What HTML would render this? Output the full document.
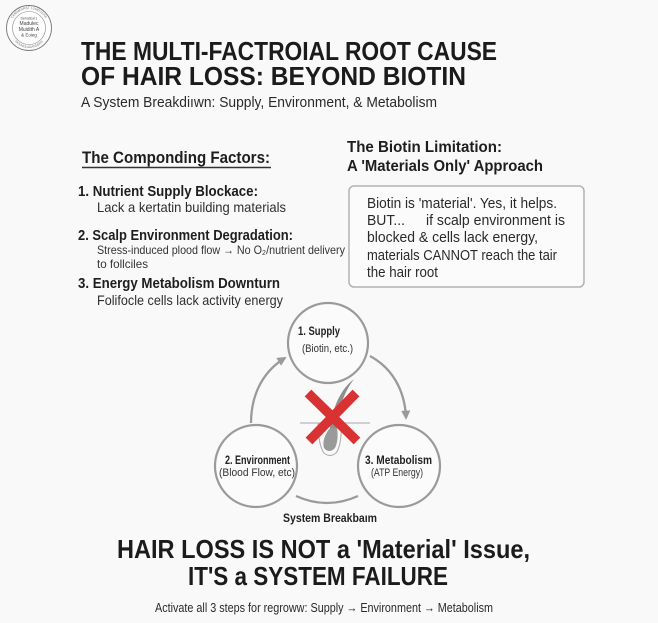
<!DOCTYPE html>
<html>
<head>
<meta charset="utf-8">
<style>
  html,body{margin:0;padding:0;background:#f9f9f9;}
  svg{display:block;}
  text{font-family:"Liberation Sans", Arial, sans-serif;}
</style>
</head>
<body>
<svg width="658" height="623" viewBox="0 0 658 623" xmlns="http://www.w3.org/2000/svg">
  <defs>
    <marker id="ah" viewBox="0 0 10 10" refX="8" refY="5" markerWidth="4" markerHeight="4" orient="auto" markerUnits="strokeWidth">
      <path d="M0,0 L10,5 L0,10 z" fill="#9a9a9a"/>
    </marker>
    <path id="ringTop" d="M 10 28 A 19 19 0 0 1 48 28"/>
    <path id="ringBot" d="M 10 29 A 19 19 0 0 0 48 29"/>
  </defs>
  <rect x="0" y="0" width="658" height="623" fill="#f9f9f9"/>

  <!-- Logo -->
  <circle cx="29" cy="28" r="22.5" fill="#fdfdfd" stroke="#7a7a7a" stroke-width="0.9"/>
  <circle cx="29" cy="28" r="16.5" fill="none" stroke="#8a8a8a" stroke-width="0.6"/>
  <text font-size="3.2" fill="#777"><textPath href="#ringTop" startOffset="50%" text-anchor="middle">CEMMEARST LUMDUERE</textPath></text>
  <text font-size="3.2" fill="#777"><textPath href="#ringBot" startOffset="50%" text-anchor="middle">ROUNOLAGANSERS</textPath></text>
  <text x="29" y="19.5" font-size="3.2" fill="#555" text-anchor="middle">Dematical 1</text>
  <text x="29" y="25" font-size="5" fill="#444" text-anchor="middle">Madulec</text>
  <text x="29" y="31" font-size="5" fill="#444" text-anchor="middle">Muidith A</text>
  <text x="29" y="36.5" font-size="4.5" fill="#444" text-anchor="middle">&amp; Eoieg</text>

  <!-- Title -->
  <text x="81" y="60" font-size="26" font-weight="bold" fill="#1b1b1b" textLength="416" lengthAdjust="spacingAndGlyphs">THE MULTI-FACTROIAL ROOT CAUSE</text>
  <text x="81" y="85" font-size="26" font-weight="bold" fill="#1b1b1b" textLength="385" lengthAdjust="spacingAndGlyphs">OF HAIR LOSS: BEYOND BIOTIN</text>
  <text x="81" y="107" font-size="15" fill="#2a2a2a" textLength="356" lengthAdjust="spacingAndGlyphs">A System Breakdiıwn: Supply, Environment, &amp; Metabolism</text>

  <!-- Left column -->
  <text x="82" y="163" font-size="16.5" font-weight="bold" fill="#1e1e1e" textLength="188" lengthAdjust="spacingAndGlyphs">The Componding Factors:</text>
  <line x1="82" y1="167.5" x2="271" y2="167.5" stroke="#333" stroke-width="1.4"/>

  <text x="78" y="196" font-size="15" font-weight="bold" fill="#1e1e1e" textLength="180" lengthAdjust="spacingAndGlyphs">1. Nutrient Supply Blockace:</text>
  <text x="97" y="212" font-size="14" fill="#2e2e2e" textLength="189" lengthAdjust="spacingAndGlyphs">Lack a kertatin building materials</text>

  <text x="78" y="240" font-size="15" font-weight="bold" fill="#1e1e1e" textLength="215" lengthAdjust="spacingAndGlyphs">2. Scalp Environment Degradation:</text>
  <text x="97" y="254" font-size="12" fill="#333" textLength="248" lengthAdjust="spacingAndGlyphs">Stress-induced plood flow → No O₂/nutrient delivery</text>
  <text x="97" y="268" font-size="12" fill="#333" textLength="51" lengthAdjust="spacingAndGlyphs">to follciles</text>

  <text x="78" y="288" font-size="15" font-weight="bold" fill="#1e1e1e" textLength="202" lengthAdjust="spacingAndGlyphs">3. Energy Metabolism Downturn</text>
  <text x="97" y="305" font-size="14" fill="#2e2e2e" textLength="186" lengthAdjust="spacingAndGlyphs">Folifocle cells lack activity energy</text>

  <!-- Right column -->
  <text x="347" y="152" font-size="16" font-weight="bold" fill="#1e1e1e" textLength="155" lengthAdjust="spacingAndGlyphs">The Biotin Limitation:</text>
  <text x="347" y="171" font-size="16" font-weight="bold" fill="#1e1e1e" textLength="196" lengthAdjust="spacingAndGlyphs">A 'Materials Only' Approach</text>

  <rect x="349" y="186" width="235" height="101" rx="5" ry="5" fill="#fbfbfb" stroke="#b3b3b3" stroke-width="1.5"/>
  <text x="367" y="208" font-size="14.5" fill="#2a2a2a" textLength="190" lengthAdjust="spacingAndGlyphs">Biotin is 'material'. Yes, it helps.</text>
  <text x="367" y="225" font-size="14.5" fill="#2a2a2a" textLength="38" lengthAdjust="spacingAndGlyphs">BUT...</text>
  <text x="426" y="225" font-size="14.5" fill="#2a2a2a" textLength="139" lengthAdjust="spacingAndGlyphs">if scalp environment is</text>
  <text x="367" y="242" font-size="14.5" fill="#2a2a2a" textLength="171" lengthAdjust="spacingAndGlyphs">blocked &amp; cells lack energy,</text>
  <text x="367" y="260" font-size="14.5" fill="#2a2a2a" textLength="190" lengthAdjust="spacingAndGlyphs">materials CANNOT reach the tair</text>
  <text x="367" y="277" font-size="14.5" fill="#2a2a2a" textLength="71" lengthAdjust="spacingAndGlyphs">the hair root</text>

  <!-- Cycle diagram: arrows -->
  <path d="M 251 423 C 251 396, 262 372, 285 358" fill="none" stroke="#9a9a9a" stroke-width="2.3" marker-end="url(#ah)"/>
  <path d="M 370 356 C 392 368, 405 390, 406 418" fill="none" stroke="#9a9a9a" stroke-width="2.3" marker-end="url(#ah)"/>
  <path d="M 296 496 Q 327 510 358 496" fill="none" stroke="#9a9a9a" stroke-width="2.3"/>

  <!-- Circles -->
  <circle cx="328" cy="343" r="40" fill="#fbfbfb" stroke="#9a9a9a" stroke-width="2.2"/>
  <circle cx="256" cy="466" r="41" fill="#fbfbfb" stroke="#9a9a9a" stroke-width="2.2"/>
  <circle cx="399" cy="466" r="41" fill="#fbfbfb" stroke="#9a9a9a" stroke-width="2.2"/>

  <text x="298" y="335" font-size="12" font-weight="bold" fill="#222" textLength="42" lengthAdjust="spacingAndGlyphs">1. Supply</text>
  <text x="302" y="352" font-size="11" fill="#333" textLength="51" lengthAdjust="spacingAndGlyphs">(Biotin, etc.)</text>

  <text x="225" y="464" font-size="12" font-weight="bold" fill="#222" textLength="65" lengthAdjust="spacingAndGlyphs">2. Environment</text>
  <text x="219" y="476" font-size="11" fill="#333" textLength="76" lengthAdjust="spacingAndGlyphs">(Blood Flow, etc)</text>

  <text x="365" y="464" font-size="12" font-weight="bold" fill="#222" textLength="67" lengthAdjust="spacingAndGlyphs">3. Metabolism</text>
  <text x="371" y="476" font-size="11" fill="#333" textLength="52" lengthAdjust="spacingAndGlyphs">(ATP Energy)</text>

  <!-- Hair follicle -->
  <line x1="300" y1="423" x2="321" y2="423" stroke="#a8a8a8" stroke-width="1.1"/>
  <line x1="343" y1="423" x2="370" y2="423" stroke="#a8a8a8" stroke-width="1.1"/>
  <path d="M 318 423 C 318 435, 320 448, 324 453 Q 330 458 336 453 C 340 448, 342 435, 341 423" fill="none" stroke="#b0b0b0" stroke-width="1.1"/>
  <path d="M 354 379 C 342 388, 333 405, 330 428 L 337 428 C 338 408, 345 391, 354 379 z" fill="#8e8e8e"/>
  <path d="M 330 428 C 325 434, 322 442, 324 448 Q 329 454 335 448 C 338 442, 338 434, 337 428 z" fill="#9a9a9a"/>

  <!-- Red X -->
  <line x1="308" y1="393" x2="357" y2="441" stroke="#d93232" stroke-width="9.5"/>
  <line x1="356" y1="393" x2="309" y2="441" stroke="#d93232" stroke-width="9.5"/>

  <text x="283" y="522" font-size="12" font-weight="bold" fill="#222" textLength="94" lengthAdjust="spacingAndGlyphs">System Breakbaım</text>

  <!-- Bottom -->
  <text x="117" y="558" font-size="26" font-weight="bold" fill="#1b1b1b" textLength="413" lengthAdjust="spacingAndGlyphs">HAIR LOSS IS NOT a 'Material' Issue,</text>
  <text x="188" y="585" font-size="26" font-weight="bold" fill="#1b1b1b" textLength="260" lengthAdjust="spacingAndGlyphs">IT'S a SYSTEM FAILURE</text>
  <text x="155" y="612" font-size="12.5" fill="#2a2a2a" textLength="338" lengthAdjust="spacingAndGlyphs">Activate all 3 steps for regroww: Supply → Environment → Metabolism</text>
</svg>
</body>
</html>
